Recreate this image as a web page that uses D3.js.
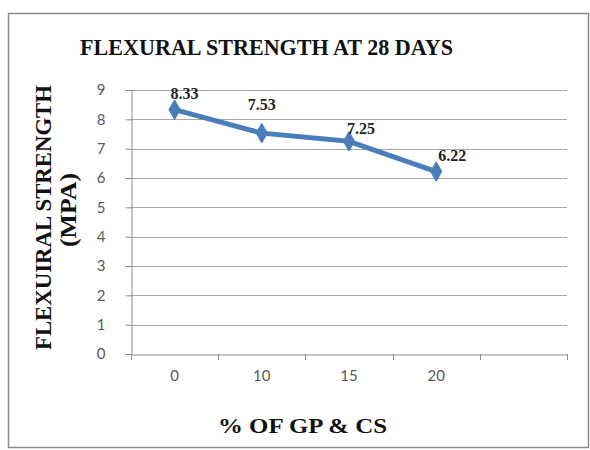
<!DOCTYPE html>
<html><head><meta charset="utf-8">
<script src="https://cdn.jsdelivr.net/npm/d3@7"></script>
<style>body{margin:0;background:#fff;}svg{display:block;}</style>
</head><body><svg id="c" width="590" height="450"></svg>
<script>
const categories = ["0", "10", "15", "20", ""];
const strength = [8.33, 7.53, 7.25, 6.22];
const yTicks = [0,1,2,3,4,5,6,7,8,9];
const titleText = "FLEXURAL STRENGTH AT 28 DAYS";
const yTitleLines = ["FLEXUIRAL STRENGTH", "(MPA)"];
const xTitleText = "% OF GP & CS";
// label nudges (style)
const labelDx = [10, 0, 12, 16];
const labelDy = [-14, -27, -11, -14];

const svg = d3.select("#c");
svg.append("rect").attr("x",8.5).attr("y",13.5).attr("width",580).attr("height",434)
  .attr("fill","#fff").attr("stroke","#8c8c8c").attr("stroke-width",1.5);

const L=131, R=567, T=90, B=354;
const x = d3.scaleBand().domain(categories.map((c,i)=>i)).range([L,R]);
const y = d3.scaleLinear().domain([0,9]).range([B,T]);

// gridlines
svg.append("g").selectAll("line").data(yTicks.filter(d=>d>0)).join("line")
  .attr("x1",L).attr("x2",R).attr("y1",d=>Math.round(y(d))+0.5).attr("y2",d=>Math.round(y(d))+0.5)
  .attr("stroke","#a6a6a6").attr("stroke-width",1);

// y axis
const ya = svg.append("g").attr("transform",`translate(${L+0.5},0)`)
  .call(d3.axisLeft(y).tickValues(yTicks).tickSize(6).tickPadding(20).tickFormat(d3.format("d")));
ya.select(".domain").attr("stroke","#8c8c8c");
ya.selectAll(".tick line").attr("stroke","#8c8c8c");
ya.selectAll("text").attr("font-family","Lato, 'Open Sans', sans-serif").attr("font-size",15).attr("fill","#595959");

// x axis
const xa = svg.append("g").attr("transform",`translate(0,${B+0.5})`)
  .call(d3.axisBottom(x).tickFormat(i=>categories[i]).tickSize(0).tickPadding(16));
xa.select(".domain").attr("stroke","#8c8c8c");
xa.selectAll("text").attr("font-family","Lato, 'Open Sans', sans-serif").attr("font-size",15).attr("fill","#595959");
svg.append("g").selectAll("line").data(d3.range(categories.length+1)).join("line")
  .attr("x1",i=>Math.round(L+i*x.step())+0.5).attr("x2",i=>Math.round(L+i*x.step())+0.5)
  .attr("y1",B).attr("y2",B+6).attr("stroke","#8c8c8c");

// line
const cx = i=>x(i)+x.bandwidth()/2;
svg.append("path").datum(strength)
  .attr("d",d3.line().x((d,i)=>cx(i)).y(d=>y(d)))
  .attr("fill","none").attr("stroke","#4a7ebb").attr("stroke-width",5).attr("stroke-linejoin","round");
svg.append("g").selectAll("path").data(strength).join("path")
  .attr("d",d3.symbol(d3.symbolDiamond,110)())
  .attr("transform",(d,i)=>`translate(${cx(i)},${y(d)})`)
  .attr("fill","#4a7ebb").attr("stroke","#4a7ebb");

// labels
svg.append("g").selectAll("text").data(strength).join("text")
  .attr("x",(d,i)=>cx(i)+labelDx[i]).attr("y",(d,i)=>y(d)+labelDy[i])
  .attr("text-anchor","middle").attr("dominant-baseline","middle")
  .attr("font-family","'Liberation Serif', serif").attr("font-weight","bold").attr("font-size",16)
  .attr("fill","#222").text(d=>d.toFixed(2));

// titles
svg.append("text").attr("x",80).attr("y",55)
  .attr("textLength",373).attr("lengthAdjust","spacingAndGlyphs")
  .attr("font-family","'Liberation Serif', serif").attr("font-weight","bold").attr("font-size",24)
  .attr("fill","#111").text(titleText);
svg.append("text").attr("x",218).attr("y",433)
  .attr("textLength",169).attr("lengthAdjust","spacingAndGlyphs")
  .attr("font-family","'Liberation Serif', serif").attr("font-weight","bold").attr("font-size",22)
  .attr("fill","#111").text(xTitleText);
const yt = svg.append("g").attr("transform","rotate(-90)");
yt.append("text").attr("x",-350).attr("y",51)
  .attr("textLength",265).attr("lengthAdjust","spacingAndGlyphs")
  .attr("font-family","'Liberation Serif', serif").attr("font-weight","bold").attr("font-size",23)
  .attr("fill","#111").text(yTitleLines[0]);
yt.append("text").attr("x",-247).attr("y",76)
  .attr("textLength",74).attr("lengthAdjust","spacingAndGlyphs")
  .attr("font-family","'Liberation Serif', serif").attr("font-weight","bold").attr("font-size",23)
  .attr("fill","#111").text(yTitleLines[1]);
</script></body></html>
